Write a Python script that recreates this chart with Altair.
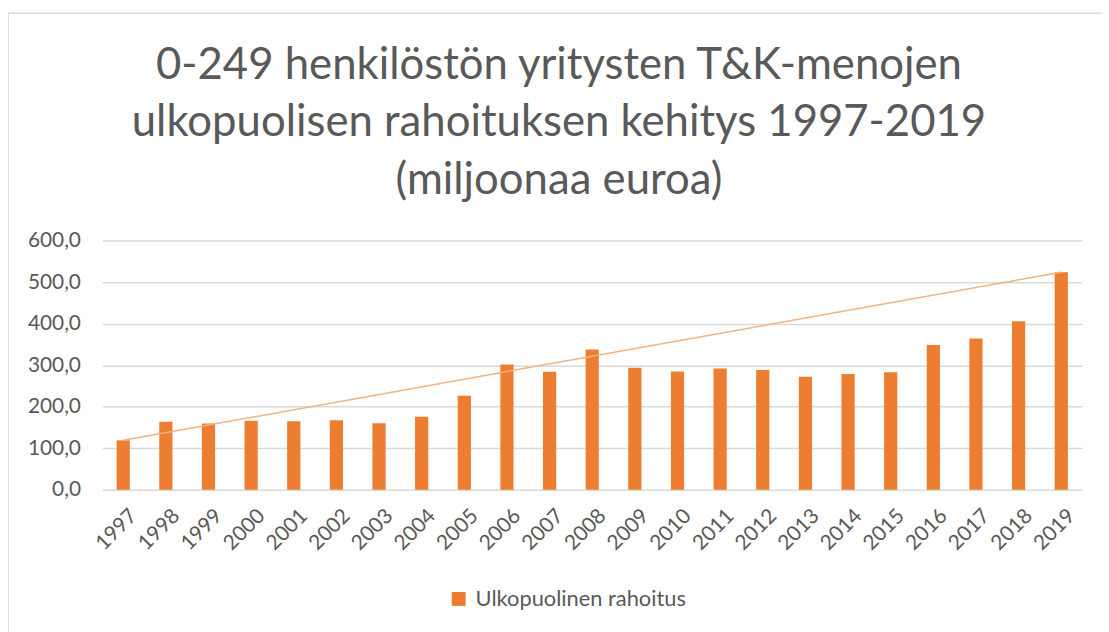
import altair as alt
import pandas as pd

years = list(range(1997, 2020))
values = [119.0, 163.5, 159.5, 166.0, 165.0, 167.5, 160.0, 176.0, 226.5, 301.5, 284.0,
          337.5, 294.0, 285.0, 292.0, 288.5, 272.0, 279.0, 283.0, 348.5, 364.0, 406.0, 524.0]
series_name = "Ulkopuolinen rahoitus"
title_lines = ["0-249 henkilöstön yritysten T&K-menojen",
               "ulkopuolisen rahoituksen kehitys 1997-2019",
               "(miljoonaa euroa)"]

df = pd.DataFrame({"year": years, "value": values, "series": series_name})
# trend line drawn from the first to the last value, as in the original
trend_df = df.iloc[[0, -1]]

FONT = "Lato"
GREY = "#595959"

base = alt.Chart(df)

bars = base.mark_bar(color="#ED7D31").encode(
    x=alt.X("year:O", title=None,
            scale=alt.Scale(paddingInner=0.69, paddingOuter=0.335),
            axis=alt.Axis(labelAngle=-45, labelFontSize=21, labelColor=GREY, labelFont=FONT,
                          ticks=False, domain=False, labelPadding=15, labelOffset=3)),
    y=alt.Y("value:Q", title=None,
            scale=alt.Scale(domain=[0, 600]),
            axis=alt.Axis(values=[0, 100, 200, 300, 400, 500, 600],
                          labelExpr="replace(format(datum.value, '.1f'), '.', ',')",
                          labelFontSize=21, labelColor=GREY, labelFont=FONT,
                          ticks=False, domain=False, labelPadding=22,
                          gridColor="#d9d9d9", gridWidth=1.5)),
    color=alt.Color("series:N", title=None,
                    scale=alt.Scale(range=["#ED7D31"]),
                    legend=alt.Legend(orient="none", legendX=348, legendY=350,
                                      symbolType="square", symbolSize=196,
                                      symbolStrokeWidth=0, labelLimit=500,
                                      labelFontSize=22, labelColor=GREY, labelFont=FONT,
                                      labelOffset=6)),
)

trend = alt.Chart(trend_df).mark_line(color="#F4B183", strokeWidth=1.5).encode(
    x=alt.X("year:O", bandPosition=0.5),
    y="value:Q",
)

one = alt.Chart(pd.DataFrame({"k": [0]}))

frame = one.mark_rect(fill=None, stroke="#d9d9d9", strokeWidth=1.5).encode(
    x=alt.value(-95), x2=alt.value(1200), y=alt.value(-229), y2=alt.value(600)
)

title_layers = [
    one.mark_text(text=line, fontSize=44, font=FONT, color=GREY,
                  align="center", baseline="alphabetic").encode(
        x=alt.value(460), y=alt.value(-163 + 58 * i))
    for i, line in enumerate(title_lines)
]

chart = alt.layer(frame, bars, trend, *title_layers).properties(
    width=987,
    height=251,
    autosize=alt.AutoSizeParams(type="none"),
    padding={"left": 95, "top": 232, "right": 19, "bottom": 141},
).configure_view(stroke=None)

chart.save("out.html", embed_options={"renderer": "svg", "actions": False})
